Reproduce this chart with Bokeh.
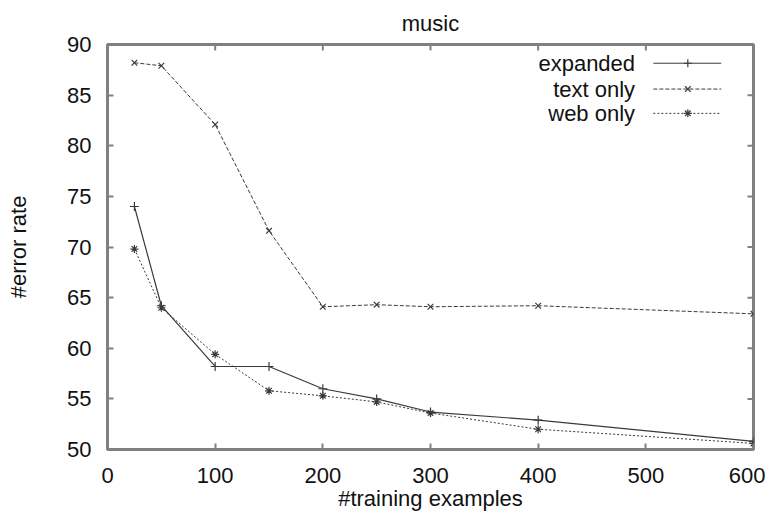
import math
from bokeh.plotting import figure
from bokeh.models import Range1d, FixedTicker, Label, Title
from bokeh.embed import file_html
from bokeh.resources import INLINE

x_vals = [25, 50, 100, 150, 200, 250, 300, 400, 600]
expanded = [74.0, 64.2, 58.2, 58.2, 56.0, 55.0, 53.7, 52.9, 50.8]
text_only = [88.2, 87.9, 82.1, 71.6, 64.1, 64.3, 64.1, 64.2, 63.4]
web_only = [69.8, 64.0, 59.4, 55.8, 55.3, 54.7, 53.6, 52.0, 50.6]
x_ticks = [0, 100, 200, 300, 400, 500, 600]
y_ticks = [50, 55, 60, 65, 70, 75, 80, 85, 90]
series_names = ["expanded", "text only", "web only"]
title_text = "music"
x_label = "#training examples"
y_label = "#error rate"

FONT = "Liberation Sans"
FS = "22px"
TXT = "#111111"
LINE = "#3a3a3a"
FRAME = "#808080"
W, H = 765, 517

p = figure(width=W, height=H, output_backend="svg", toolbar_location=None,
           x_range=Range1d(0, 600), y_range=Range1d(50, 90),
           min_border_left=107, min_border_right=12, min_border_top=43, min_border_bottom=68)
p.title = Title(text=title_text, align="center", text_font=FONT, text_font_size=FS,
                text_font_style="normal", text_color=TXT, standoff=17)
p.grid.visible = False
p.outline_line_color = FRAME
p.outline_line_width = 3
p.background_fill_color = "white"
p.border_fill_color = "white"

for ax in (p.xaxis[0], p.yaxis[0]):
    ax.axis_line_color = None
    ax.major_tick_in = 6
    ax.major_tick_out = 0
    ax.major_tick_line_color = FRAME
    ax.major_tick_line_width = 2
    ax.minor_tick_line_color = None
    ax.major_label_text_font = FONT
    ax.major_label_text_font_size = FS
    ax.major_label_text_color = TXT
    ax.axis_label_text_font = FONT
    ax.axis_label_text_font_size = FS
    ax.axis_label_text_font_style = "normal"
    ax.axis_label_text_color = TXT

p.xaxis.ticker = FixedTicker(ticks=x_ticks)
p.yaxis.ticker = FixedTicker(ticks=y_ticks)
p.xaxis.axis_label = x_label
p.yaxis.axis_label = y_label
p.xaxis.major_label_standoff = 18
p.yaxis.major_label_standoff = 16
p.xaxis.axis_label_standoff = 0
p.yaxis.axis_label_standoff = 33

# mirrored inward ticks on the top and right edges of the frame
p.ray(x=[600] * len(y_ticks), y=y_ticks, length=6, length_units="screen", angle=math.pi,
      line_color=FRAME, line_width=2)
p.ray(x=x_ticks, y=[90] * len(x_ticks), length=6, length_units="screen", angle=-math.pi / 2,
      line_color=FRAME, line_width=2)

# data lines
p.line(x_vals, expanded, line_color=LINE, line_width=1.2)
p.scatter(x_vals, expanded, marker="cross", size=9, line_color=LINE, line_width=1.2)
p.line(x_vals, text_only, line_color=LINE, line_width=1, line_dash="4 2")
p.scatter(x_vals, text_only, marker="x", size=8, line_color=LINE, line_width=1.2)
p.line(x_vals, web_only, line_color=LINE, line_width=1, line_dash="2 2")
p.scatter(x_vals, web_only, marker="asterisk", size=8, line_color=LINE, line_width=1.2)

# legend (labels to the left of the samples, as in the reference)
leg_y = [88.15, 85.6, 83.2]
dashes = ["solid", "4 2", "2 2"]
markers = ["cross", "x", "asterisk"]
for name, yy, d, m in zip(series_names, leg_y, dashes, markers):
    p.line([507, 570], [yy, yy], line_color=LINE, line_width=1, line_dash=d)
    p.scatter([539], [yy], marker=m, size=8, line_color=LINE, line_width=1.2)
    p.add_layout(Label(x=490, y=yy, text=name, text_align="right", text_baseline="middle",
                       text_font=FONT, text_font_size=FS, text_color=TXT))

open("out.html", "w").write(file_html(p, INLINE))
